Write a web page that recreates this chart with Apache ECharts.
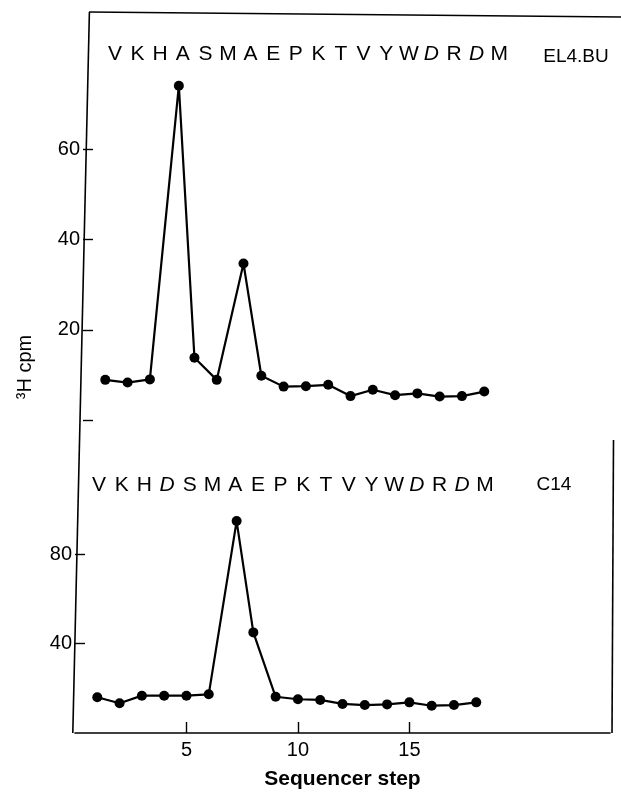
<!DOCTYPE html>
<html>
<head>
<meta charset="utf-8">
<script src="https://cdn.jsdelivr.net/npm/echarts@6/dist/echarts.min.js"></script>
<style>
  html, body { margin: 0; padding: 0; background: #fff; }
  #chart { width: 621px; height: 792px; }
</style>
</head>
<body>
<div id="chart"></div>
<script>
// sequencer steps (the peaks were plotted slightly off the integer step)
const stepsTop = [1, 2, 3, 4.3, 5, 6, 7.2, 8, 9, 10, 11, 12, 13, 14, 15, 16, 17, 18];
const cpmTop = [8.9, 8.3, 9.0, 74.1, 13.8, 8.9, 34.7, 9.8, 7.4, 7.5, 7.8, 5.3, 6.7, 5.5, 5.9, 5.2, 5.3, 6.3];

const stepsBottom = [1, 2, 3, 4, 5, 6, 7.25, 8, 9, 10, 11, 12, 13, 14, 15, 16, 17, 18];
const cpmBottom = [16.0, 13.3, 16.7, 16.7, 16.7, 17.3, 94.8, 45.0, 16.2, 15.1, 14.8, 13.0, 12.5, 12.8, 13.7, 12.2, 12.5, 13.7];

const xTicks = [5, 10, 15];
const yTicksTop = [0, 20, 40, 60];
const yLabelsTop = [20, 40, 60];
const yTicksBottom = [40, 80];

const seqTop = ["V","K","H","A","S","M","A","E","P","K","T","V","Y","W","D","R","D","M"];
const seqBottom = ["V","K","H","D","S","M","A","E","P","K","T","V","Y","W","D","R","D","M"];
const italicTop = [14, 16];
const italicBottom = [3, 14, 16];

const FONT = '"Liberation Sans", Arial, sans-serif';

function pairs(xs, ys) {
  return xs.map((x, i) => [x, ys[i]]);
}

function seqText(letters, italics, x0, y, pitch) {
  return letters.map((ch, i) => ({
    type: "text",
    x: x0 + i * pitch,
    y: y,
    style: {
      text: ch,
      font: (italics.indexOf(i) >= 0 ? "italic " : "") + "21px " + FONT,
      fill: "#000",
      align: "center",
      verticalAlign: "middle"
    }
  }));
}

const chart = echarts.init(document.getElementById("chart"));

const option = {
  animation: false,
  backgroundColor: "#fff",
  grid: [
    { left: 83, top: 14, width: 535, height: 406, outerBoundsMode: "none", containLabel: false },
    { left: 75, top: 420, width: 535, height: 313, outerBoundsMode: "none", containLabel: false }
  ],
  xAxis: [
    {
      gridIndex: 0, type: "value", min: 0, max: 24, show: false
    },
    {
      gridIndex: 1, type: "value", min: 0, max: 24,
      name: "Sequencer step",
      nameLocation: "middle",
      nameGap: 36,
      nameTextStyle: { fontFamily: FONT, fontSize: 21, fontWeight: "bold", color: "#000" },
      axisLine: { lineStyle: { color: "#000", width: 1.6 } },
      axisTick: { inside: true, length: 11, customValues: xTicks, lineStyle: { color: "#000", width: 1.4 } },
      axisLabel: { customValues: xTicks, margin: 7, fontFamily: FONT, fontSize: 20, color: "#000" },
      splitLine: { show: false }
    }
  ],
  yAxis: [
    {
      gridIndex: 0, type: "value", min: 0, max: 90,
      axisLine: { show: false },
      axisTick: { inside: true, length: 10, customValues: yTicksTop, lineStyle: { color: "#000", width: 1.4 } },
      axisLabel: { customValues: yLabelsTop, margin: 3, fontFamily: FONT, fontSize: 20, color: "#000" },
      splitLine: { show: false }
    },
    {
      gridIndex: 1, type: "value", min: 0, max: 140,
      axisLine: { show: false },
      axisTick: { inside: true, length: 10, customValues: yTicksBottom, lineStyle: { color: "#000", width: 1.4 } },
      axisLabel: { customValues: yTicksBottom, margin: 3, fontFamily: FONT, fontSize: 20, color: "#000" },
      splitLine: { show: false }
    }
  ],
  series: [
    {
      name: "EL4.BU",
      type: "line",
      xAxisIndex: 0, yAxisIndex: 0,
      data: pairs(stepsTop, cpmTop),
      symbol: "circle", symbolSize: 10,
      itemStyle: { color: "#000" },
      lineStyle: { color: "#000", width: 2.2 }
    },
    {
      name: "C14",
      type: "line",
      xAxisIndex: 1, yAxisIndex: 1,
      data: pairs(stepsBottom, cpmBottom),
      symbol: "circle", symbolSize: 10,
      itemStyle: { color: "#000" },
      lineStyle: { color: "#000", width: 2.2 }
    }
  ],
  graphic: [
    // frame: slanted left axis, top and right borders (scan is slightly rotated)
    { type: "line", shape: { x1: 89.4, y1: 12, x2: 72.8, y2: 733 }, style: { stroke: "#000", lineWidth: 1.6 } },
    { type: "line", shape: { x1: 89, y1: 12, x2: 621, y2: 17 }, style: { stroke: "#000", lineWidth: 1.6 } },
    { type: "line", shape: { x1: 613.5, y1: 440, x2: 612, y2: 733 }, style: { stroke: "#000", lineWidth: 1.6 } },
    {
      type: "text", x: 25, y: 367, rotation: Math.PI / 2,
      style: { text: "³H cpm", font: "20px " + FONT, fill: "#000", align: "center", verticalAlign: "middle" }
    },
    {
      type: "text", x: 576, y: 57,
      style: { text: "EL4.BU", font: "19px " + FONT, fill: "#000", align: "center", verticalAlign: "middle" }
    },
    {
      type: "text", x: 554, y: 485,
      style: { text: "C14", font: "19px " + FONT, fill: "#000", align: "center", verticalAlign: "middle" }
    }
  ]
    .concat(seqText(seqTop, italicTop, 115, 54, 22.6))
    .concat(seqText(seqBottom, italicBottom, 99, 485, 22.7))
};

chart.setOption(option);
</script>
</body>
</html>
